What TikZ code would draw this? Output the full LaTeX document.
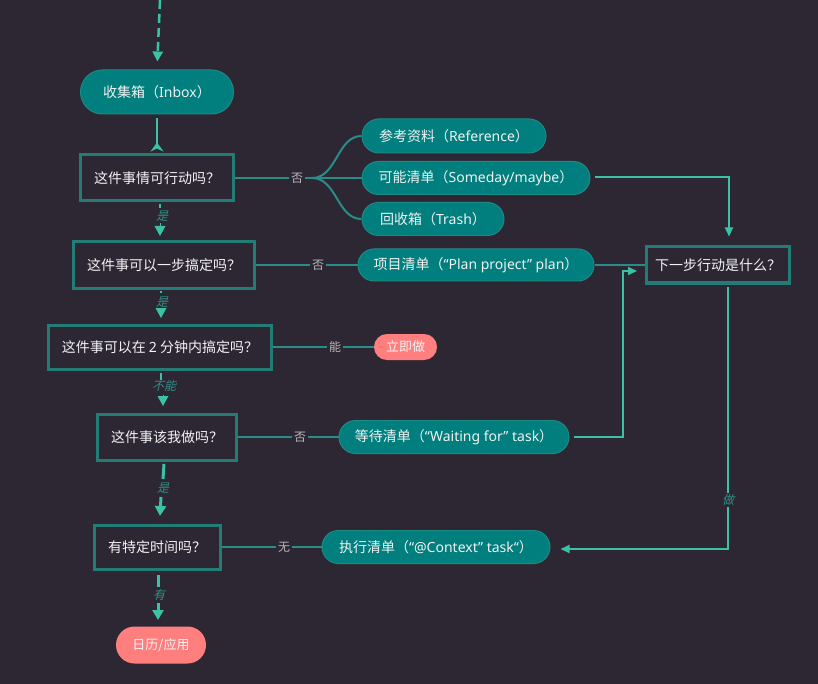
\documentclass[tikz,border=0pt]{standalone}
\usepackage{fontspec}
\setmainfont{Noto Sans CJK SC}
\newfontfamily\cjkit[FakeSlant=0.25]{Noto Sans CJK SC}
\newfontfamily\lat{Noto Sans}
\usetikzlibrary{shapes.misc,arrows.meta}
\definecolor{bgc}{HTML}{2D2734}
\definecolor{tealfill}{HTML}{007F7E}
\definecolor{pillborder}{HTML}{1E8A85}
\definecolor{boxborder}{HTML}{237D76}
\definecolor{arrowc}{HTML}{3BC2A6}
\definecolor{linkc}{HTML}{2A8C86}
\definecolor{graylbl}{HTML}{B8B8B8}
\definecolor{itlbl}{HTML}{2F8F86}
\definecolor{salmon}{HTML}{FF7F7F}
\definecolor{txt}{HTML}{F2F2F2}
\tikzset{
  pill/.style={rounded rectangle, fill=tealfill, draw=pillborder, line width=1pt, text=txt, inner sep=0pt, font=\fontsize{14}{16}\selectfont},
  hotpill/.style={rounded rectangle, fill=salmon, text=txt, inner sep=0pt, font=\fontsize{13}{15}\selectfont},
  qbox/.style={rectangle, draw=boxborder, line width=3pt, fill=bgc, text=txt, inner sep=0pt, font=\fontsize{14}{16}\selectfont},
  glbl/.style={text=graylbl, fill=bgc, inner sep=2pt, font=\fontsize{12}{14}\selectfont},
  ilbl/.style={text=itlbl, inner sep=1pt, font=\fontsize{12}{14}\selectfont\cjkit},
  link/.style={draw=linkc, line width=2pt},
  flow/.style={draw=arrowc, line width=2pt, -{Triangle[width=8pt,length=9pt]}},
  dflow/.style={draw=arrowc, line width=2.5pt, dash pattern=on 9pt off 5pt, -{Triangle[width=10pt,length=10pt]}},
}
\begin{document}
\begin{tikzpicture}[x=1pt,y=-1pt]
\fill[bgc] (0,0) rectangle (818,684);
\useasboundingbox (0,0) rectangle (818,684);

% nodes
\node[pill, minimum width=153pt, minimum height=44pt] (inbox) at (157,92) {收集箱（{\lat Inbox}）};
\node[qbox, minimum width=153pt, minimum height=46pt] (q1) at (157,178) {这件事情可行动吗？};
\node[pill, minimum width=184pt, minimum height=34pt] (ref) at (454,136) {参考资料（{\lat Reference}）};
\node[pill, minimum width=228pt, minimum height=33pt] (some) at (476,178) {可能清单（{\lat Someday/maybe}）};
\node[pill, minimum width=142pt, minimum height=33pt] (trash) at (433,219) {回收箱（{\lat Trash}）};
\node[qbox, minimum width=143pt, minimum height=36pt] (next) at (718,265) {下一步行动是什么？};
\node[qbox, minimum width=181pt, minimum height=46pt] (q2) at (164,265) {这件事可以一步搞定吗？};
\node[pill, minimum width=236pt, minimum height=32pt] (proj) at (476,265) {项目清单（{\lat “Plan project” plan}）};
\node[qbox, minimum width=223pt, minimum height=44pt] (q3) at (160,347) {这件事可以在 {\lat 2} 分钟内搞定吗？};
\node[hotpill, minimum width=63pt, minimum height=26pt] (now) at (405.5,347) {立即做};
\node[qbox, minimum width=139pt, minimum height=46pt] (q4) at (167,437) {这件事该我做吗？};
\node[pill, minimum width=230pt, minimum height=33pt] (wait) at (454,437) {等待清单（{\lat “Waiting for” task}）};
\node[qbox, minimum width=126pt, minimum height=44pt] (q5) at (157,547) {有特定时间吗？};
\node[pill, minimum width=228pt, minimum height=33pt] (exec) at (436,547) {执行清单（{\lat “@Context” task“}）};
\node[hotpill, minimum width=90pt, minimum height=37pt] (cal) at (161,645) {日历/{\lat }应用};

% entry
\coordinate (top) at (160,0);
\draw[dflow, shorten >=8pt] (top) -- (inbox.north);

% inbox <-> q1
\draw[draw=arrowc, line width=2.5pt, -{Stealth[reversed,width=13pt,length=9pt,inset=3pt]}, shorten <=4pt, shorten >=2pt] (inbox.south) -- (q1.north);

% q1 no -> branches
\node[glbl] (l1) at (297,178) {否};
\coordinate (br) at (312,178);
\draw[link] (q1.east) -- (l1);
\draw[link] (l1.east) -- (br);
\draw[link] (br) .. controls (337,178) and (337,136) .. (ref.west);
\draw[link] (br) -- (some.west);
\draw[link] (br) .. controls (337,178) and (337,219) .. (trash.west);

% someday -> next
\coordinate (sn) at (729,177);
\draw[flow, shorten <=4pt, shorten >=9pt] (some.east |- sn) -- (sn) -- (sn |- next.north);

% q1 -> q2
\node[ilbl] (y1) at (162,216) {是};
\draw[draw=arrowc, line width=2.5pt] (160,204) -- (160,208);
\draw[draw=arrowc, line width=0pt, -{Triangle[width=11pt,length=10pt]}] (160,224) -- (160,236);

% q2 no -> project -> next
\node[glbl] (l2) at (318,265) {否};
\draw[link] (q2.east) -- (l2);
\draw[link] (l2) -- (proj.west);
\draw[link] (proj.east) -- (next.west);

% q2 -> q3
\node[ilbl] (y2) at (162,302) {是};
\draw[draw=arrowc, line width=2pt] (161,291) -- (161,293);
\draw[draw=arrowc, line width=0pt, -{Triangle[width=11pt,length=10pt]}] (161,308) -- (161,318);

% q3 yes -> now
\node[glbl] (l3) at (335,347) {能};
\draw[link] (q3.east) -- (l3);
\draw[link] (l3) -- (now.west);

% q3 -> q4
\node[ilbl] (y3) at (164,386) {不能};
\draw[draw=arrowc, line width=2.5pt] (161,373) -- (161,380);
\draw[draw=arrowc, line width=0pt, -{Triangle[width=11pt,length=10pt]}] (163,395) -- (163,406);

% q4 no -> waiting -> next
\node[glbl] (l4) at (300,437) {否};
\draw[link] (q4.east) -- (l4);
\draw[link] (l4) -- (wait.west);
\draw[flow, shorten <=4pt] (wait.east) -- (623,437) -- (623,271) -- (637,271);

% q4 -> q5
\node[ilbl] (y4) at (163,488) {是};
\draw[draw=arrowc, line width=3pt] (164,464) -- (163,479);
\draw[draw=arrowc, line width=3pt, -{Triangle[width=11pt,length=10pt]}] (161,497) -- (160,516);

% q5 no -> exec
\node[glbl] (l5) at (284,547) {无};
\draw[link] (q5.east) -- (l5);
\draw[link] (l5) -- (exec.west);

% next -> exec
\node[ilbl] (d1) at (728,500) {做};
\draw[draw=arrowc, line width=2pt] (728,287) -- (d1.north);
\draw[flow, shorten >=10pt] (d1.south) -- (728,549) -- (exec.east |- 0,549);

% q5 -> cal
\node[ilbl] (y5) at (159,595) {有};
\draw[draw=arrowc, line width=3pt] (158,575) -- (158,587);
\draw[draw=arrowc, line width=3pt, -{Triangle[width=11pt,length=10pt]}] (158,603) -- (158,620);
\end{tikzpicture}
\end{document}
